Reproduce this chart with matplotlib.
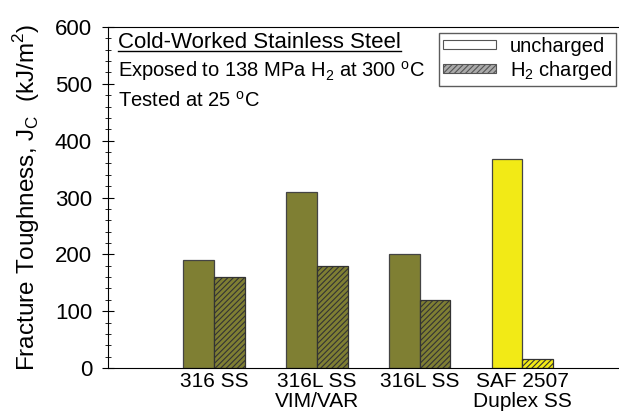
import numpy as np
import matplotlib
matplotlib.use('Agg')
import matplotlib.pyplot as plt
from matplotlib.patches import Patch

# 数据
materials = ['316 SS', '316L SS\nVIM/VAR', '316L SS', 'SAF 2507\nDuplex SS']
uncharged = [190, 310, 200, 368]
h2_charged = [160, 180, 120, 15]
colors = ['#7f7f33', '#7f7f33', '#7f7f33', '#f2ea16']

plt.rcParams['font.family'] = ['Liberation Sans', 'DejaVu Sans']
plt.rcParams['hatch.linewidth'] = 0.8

fig = plt.figure(figsize=(6.19, 4.16), dpi=100)
ax = fig.add_axes([108/619, 48/416, (625-108)/619, (368-27)/416])

x = np.arange(1, len(materials) + 1)
w = 0.30
for i in range(len(materials)):
    ax.bar(x[i] - w/2, uncharged[i], w, color=colors[i], edgecolor='#444444', linewidth=0.9)
    ax.bar(x[i] + w/2, h2_charged[i], w, color=colors[i], edgecolor='#333333', linewidth=0.9,
           hatch='//////')

ax.set_xlim(-0.035, 5.0)
ax.set_ylim(0, 600)
ax.set_xticks(x)
ax.set_xticklabels(materials, fontsize=15, linespacing=1.05)
ax.tick_params(axis='x', length=0, pad=3)
ax.set_yticks(np.arange(0, 601, 100))
ax.set_yticks(np.arange(0, 601, 20), minor=True)
ax.tick_params(axis='y', which='major', direction='inout', length=9, labelsize=16, pad=7)
ax.tick_params(axis='y', which='minor', direction='inout', length=5)
ax.spines['right'].set_visible(False)
ax.set_ylabel('Fracture Toughness, J$_\\mathregular{C}$  (kJ/m$^\\mathregular{2}$)', fontsize=17.5, labelpad=9)

# 说明文字
t1 = ax.text(0.019, 0.956, 'Cold-Worked Stainless Steel', transform=ax.transAxes, fontsize=16, va='center')
ax.text(0.019, 0.871, 'Exposed to 138 MPa H$_\\mathregular{2}$ at 300 $^\\mathregular{o}$C',
        transform=ax.transAxes, fontsize=14.5, va='center')
ax.text(0.019, 0.783, 'Tested at 25 $^\\mathregular{o}$C', transform=ax.transAxes, fontsize=14.5, va='center')

# 下划线
fig.canvas.draw()
bb = t1.get_window_extent()
fig.add_artist(plt.Line2D([bb.x0/619, bb.x1/619], [1-51/416, 1-51/416], color='black', lw=1))

handles = [Patch(facecolor='white', edgecolor='#555555', linewidth=0.8),
           Patch(facecolor='#aaaaaa', edgecolor='#555555', linewidth=0.8, hatch='//////')]
leg = ax.legend(handles, ['uncharged', 'H$_\\mathregular{2}$ charged'], loc='upper right',
                bbox_to_anchor=((616-108)/517, 1-6/341), fontsize=14.5, frameon=True, fancybox=False,
                edgecolor='#333333', handlelength=2.6, handleheight=0.3, handletextpad=0.7,
                labelspacing=0.15, borderpad=0.2, borderaxespad=0)
leg.get_frame().set_linewidth(1)

plt.savefig('out.png', dpi=100)
